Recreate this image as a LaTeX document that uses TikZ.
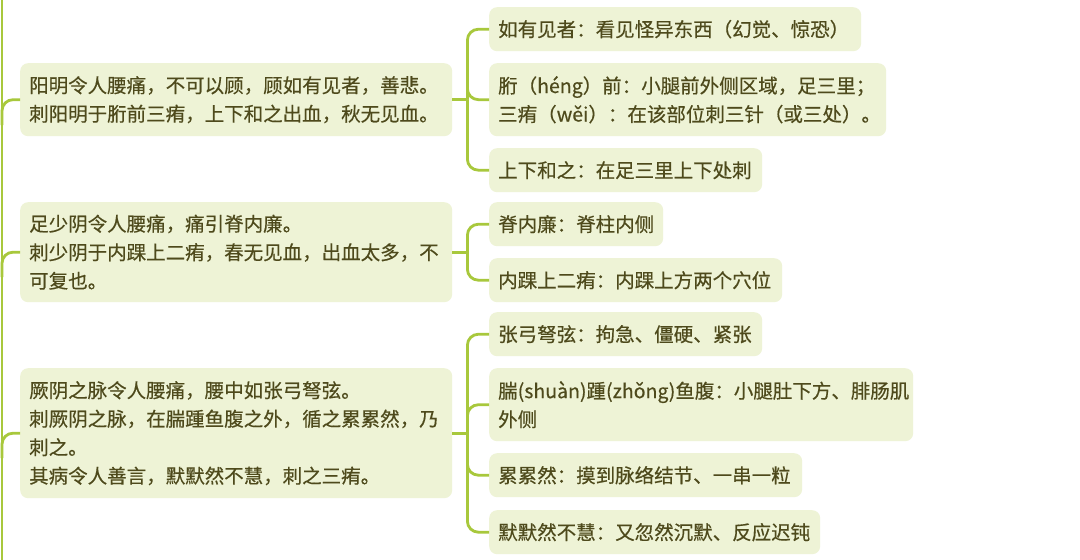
\documentclass[tikz,border=0pt]{standalone}
\usepackage{fontspec}
\setmainfont{Noto Sans CJK SC}[FakeBold=0.4]
\usetikzlibrary{calc}
\definecolor{boxfill}{HTML}{EEF3D6}
\definecolor{boxtext}{HTML}{4E4A1C}
\definecolor{branch}{HTML}{A8C83C}
\tikzset{
  mbox/.style={fill=boxfill, rounded corners=8pt, anchor=north west, inner xsep=9pt, inner ysep=0pt,
    align=left, text=boxtext, font=\fontsize{19.5}{28.5}\selectfont},
  link/.style={draw=branch, line width=2.8pt, rounded corners=11pt},
}
\newcommand{\mbx}[6]{% name, x1, y1, x2, y2, text
  \node[mbox, minimum height={(#5-#3)*1pt}, text width={(#4-#2-18)*1pt}] (#1) at (#2,#3) {#6};}
\begin{document}
\begin{tikzpicture}[x=1pt,y=-1pt]
\useasboundingbox[fill=white] (0,0) rectangle (1080,560);
% left boxes
\mbx{L1}{20}{63}{452}{136}{阳明令人腰痛，不可以顾，顾如有见者，善悲。\\刺阳明于胻前三痏，上下和之出血，秋无见血。}
\mbx{L2}{20}{202}{452}{302}{足少阴令人腰痛，痛引脊内廉。\\刺少阴于内踝上二痏，春无见血，出血太多，不\\可复也。}
\mbx{L3}{20}{368}{452}{498}{厥阴之脉令人腰痛，腰中如张弓弩弦。\\刺厥阴之脉，在腨踵鱼腹之外，循之累累然，乃\\刺之。\\其病令人善言，默默然不慧，刺之三痏。}
% right boxes
\mbx{R1}{489}{7}{861}{51}{如有见者：看见怪异东西（幻觉、惊恐）}
\mbx{R2}{489}{63}{886}{136}{胻（héng）前：小腿前外侧区域，足三里；\\三痏（wěi）：在该部位刺三针（或三处）。}
\mbx{R3}{489}{148}{762}{192}{上下和之：在足三里上下处刺}
\mbx{R4}{489}{202}{663}{246}{脊内廉：脊柱内侧}
\mbx{R5}{489}{258}{782}{302}{内踝上二痏：内踝上方两个穴位}
\mbx{R6}{489}{312}{762}{356}{张弓弩弦：拘急、僵硬、紧张}
\mbx{R7}{489}{368}{913}{441}{腨(shuàn)踵(zhǒng)鱼腹：小腿肚下方、腓肠肌\\外侧}
\mbx{R8}{489}{453}{802}{497}{累累然：摸到脉络结节、一串一粒}
\mbx{R9}{489}{510}{820}{554}{默默然不慧：又忽然沉默、反应迟钝}
% left spine
\coordinate (spT) at (2,0);
\coordinate (spB) at (2,560);
\draw[link] (spT) -- (spB);
\coordinate (s1) at (2,125);
\coordinate (s2) at (2,277);
\coordinate (s3) at (2,458);
\draw[link] (s1) |- (L1.west);
\draw[link] (s2) |- (L2.west);
\draw[link] (s3) |- (L3.west);
% junctions
\coordinate (j1) at ($(L1.east)+(15,0)$);
\coordinate (j2) at ($(L2.east)+(15,0)$);
\coordinate (j3) at ($(L3.east)+(15,0)$);
\draw[link] (L1.east) -- (j1);
\draw[link] (L2.east) -- (j2);
\draw[link] (L3.east) -- (j3);
\foreach \c in {R1,R2,R3} \draw[link] (j1) |- (\c.west);
\foreach \c in {R4,R5} \draw[link] (j2) |- (\c.west);
\foreach \c in {R6,R7,R8,R9} \draw[link] (j3) |- (\c.west);
\end{tikzpicture}
\end{document}
